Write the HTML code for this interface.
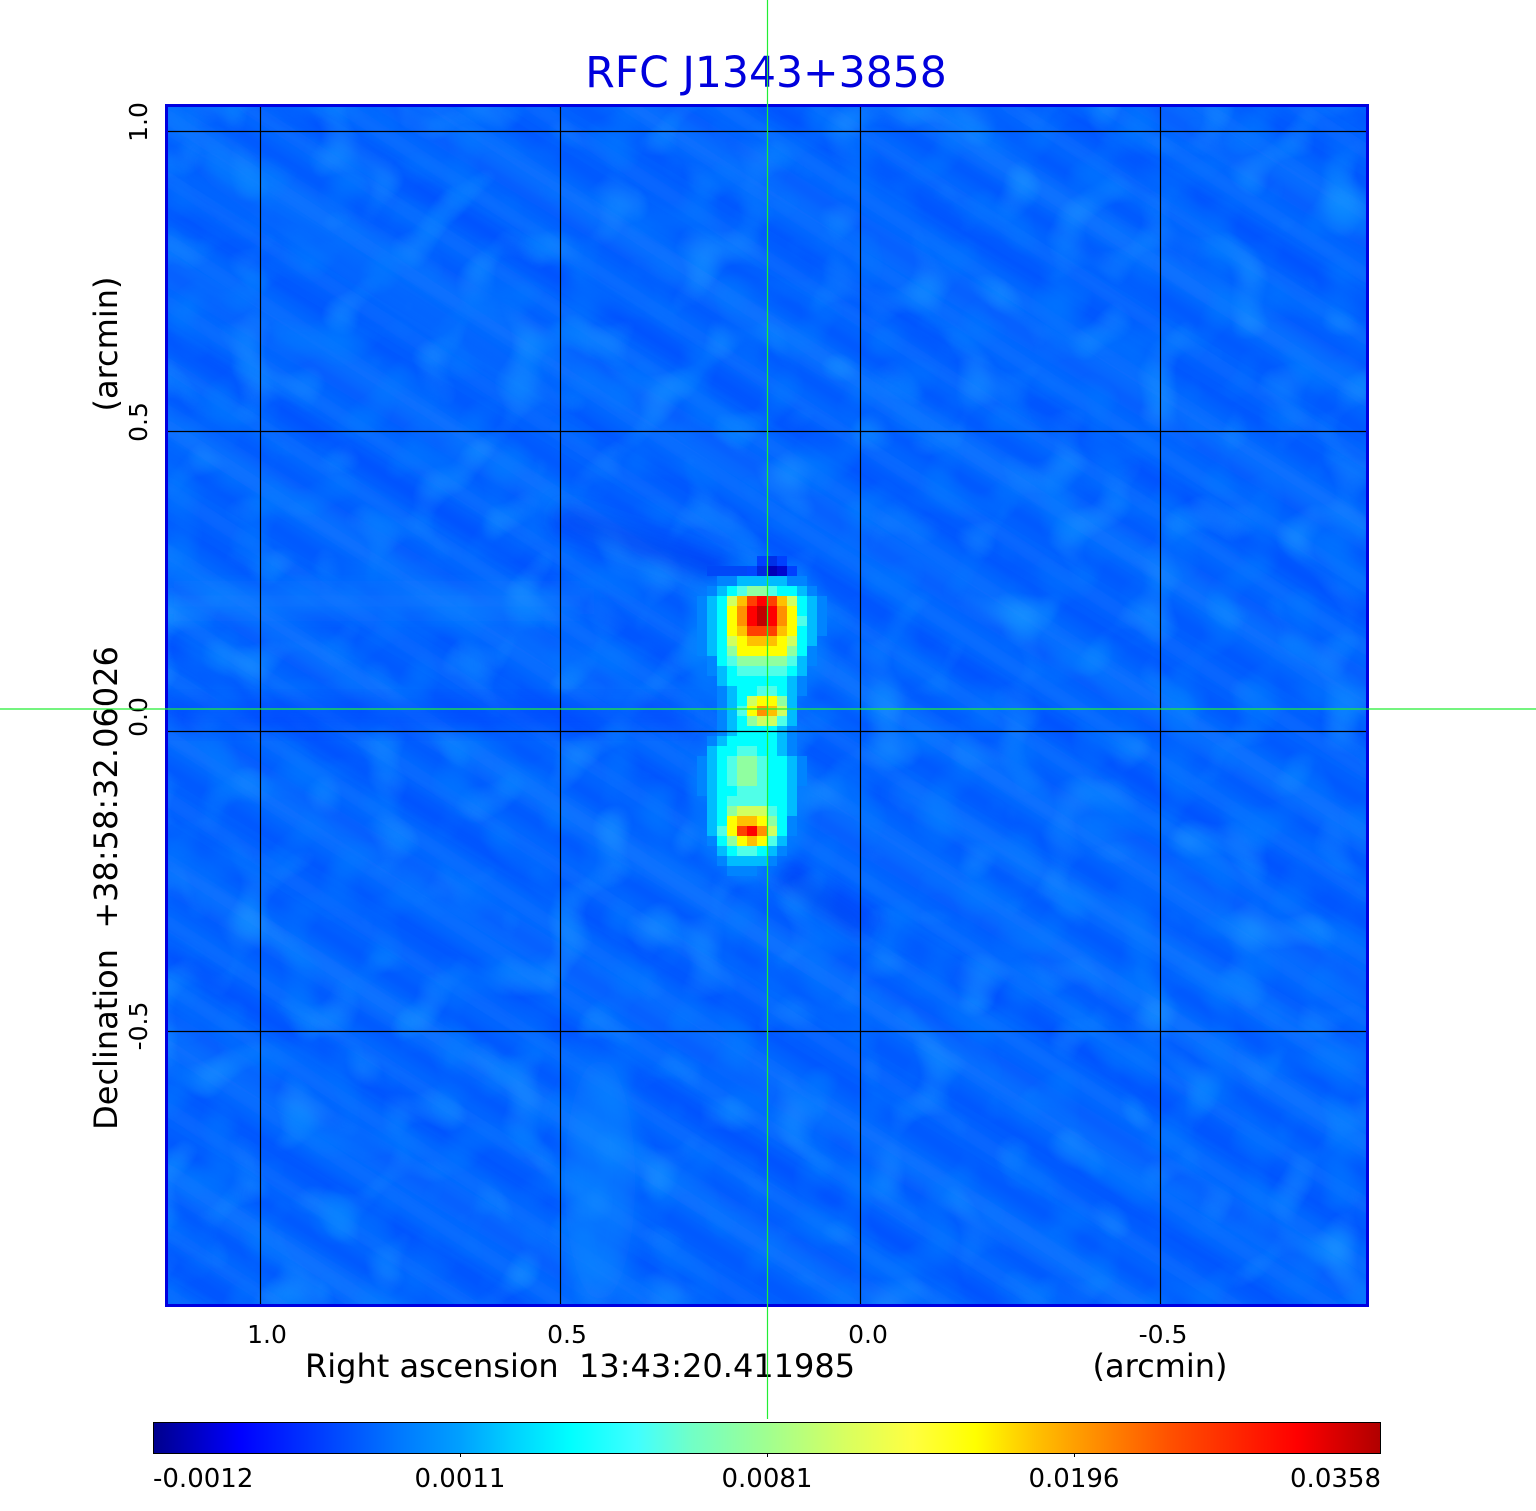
<!DOCTYPE html>
<html><head><meta charset="utf-8"><style>
html,body{margin:0;padding:0;background:#fff;}
svg{display:block;}
text{font-family:"DejaVu Sans","Liberation Sans",sans-serif;}
</style></head><body>
<svg width="1536" height="1511" viewBox="0 0 1536 1511" xmlns="http://www.w3.org/2000/svg">
<defs>
 <clipPath id="pc"><rect x="167" y="106" width="1200" height="1200"/></clipPath>
 <pattern id="st" patternUnits="userSpaceOnUse" width="20" height="52" patternTransform="rotate(33)">
  <rect width="20" height="14" y="0" fill="#1a8cff" opacity="0.28"/>
  <rect width="20" height="14" y="26" fill="#0040ff" opacity="0.25"/>
 </pattern>
 <pattern id="st2" patternUnits="userSpaceOnUse" width="20" height="130" patternTransform="rotate(31)">
  <rect width="20" height="30" y="0" fill="#1a8cff" opacity="0.18"/>
  <rect width="20" height="30" y="65" fill="#0038ff" opacity="0.18"/>
 </pattern>
 <filter id="bl" x="-0.05" y="-0.05" width="1.1" height="1.1"><feGaussianBlur stdDeviation="6"/></filter>
 <filter id="bl2" x="-0.5" y="-0.5" width="2" height="2"><feGaussianBlur stdDeviation="10"/></filter>
 <filter id="bl3" x="-0.5" y="-0.5" width="2" height="2"><feGaussianBlur stdDeviation="6"/></filter>
 <filter id="nzl" filterUnits="userSpaceOnUse" x="167" y="106" width="1200" height="1200">
  <feTurbulence type="fractalNoise" baseFrequency="0.022" numOctaves="1" seed="7" result="t"/>
  <feColorMatrix in="t" type="matrix" values="0 0 0 0 0.03  0 0 0 0 0.55  0 0 0 0 1  2.5 0 0 0 -1.35"/>
 </filter>
 <filter id="nzd" filterUnits="userSpaceOnUse" x="167" y="106" width="1200" height="1200">
  <feTurbulence type="fractalNoise" baseFrequency="0.025" numOctaves="1" seed="19" result="t"/>
  <feColorMatrix in="t" type="matrix" values="0 0 0 0 0  0 0 0 0 0.22  0 0 0 0 1  0 -2.5 0 0 1.3"/>
 </filter>
 <linearGradient id="cb" x1="0" y1="0" x2="1" y2="0">
  <stop offset="0" stop-color="#00008c"/>
  <stop offset="0.07" stop-color="#0000ff"/>
  <stop offset="0.2" stop-color="#0078ff"/>
  <stop offset="0.25" stop-color="#00a0ff"/>
  <stop offset="0.292" stop-color="#00d0ff"/>
  <stop offset="0.34" stop-color="#00ffff"/>
  <stop offset="0.394" stop-color="#40ffff"/>
  <stop offset="0.437" stop-color="#70ffc8"/>
  <stop offset="0.5" stop-color="#a0ff90"/>
  <stop offset="0.564" stop-color="#d8ff60"/>
  <stop offset="0.619" stop-color="#ffff40"/>
  <stop offset="0.67" stop-color="#ffff00"/>
  <stop offset="0.72" stop-color="#ffc000"/>
  <stop offset="0.75" stop-color="#ffa000"/>
  <stop offset="0.829" stop-color="#ff5000"/>
  <stop offset="0.932" stop-color="#ff0000"/>
  <stop offset="1" stop-color="#b00000"/>
 </linearGradient>
</defs>

<!-- Image area -->
<g clip-path="url(#pc)">
 <rect x="167" y="106" width="1200" height="1200" fill="#0062ff"/>
 <rect x="160" y="100" width="1214" height="1214" fill="url(#st2)" filter="url(#bl)"/>
 <rect x="160" y="100" width="1214" height="1214" fill="url(#st)" filter="url(#bl)"/>
 <rect x="167" y="106" width="1200" height="1200" fill="#000" filter="url(#nzl)" opacity="0.55"/>
 <rect x="167" y="106" width="1200" height="1200" fill="#000" filter="url(#nzd)" opacity="0.6"/>
 <!-- broad features -->
 <rect x="167" y="588" width="420" height="26" fill="#1288ff" opacity="0.5" filter="url(#bl2)"/>
 <rect x="167" y="702" width="520" height="26" fill="#0040ff" opacity="0.5" filter="url(#bl2)"/>
 <ellipse cx="600" cy="1180" rx="35" ry="120" fill="#118cff" opacity="0.5" filter="url(#bl2)"/>
 <polygon points="560,505 750,570 745,590 555,525" fill="#0030f0" opacity="0.6" filter="url(#bl2)"/>
 <polygon points="786,866 870,922 862,938 778,882" fill="#0030f0" opacity="0.6" filter="url(#bl2)"/>
 <polygon points="900,780 1367,1050 1367,1075 890,800" fill="#1890ff" opacity="0.4" filter="url(#bl2)"/>
 <polygon points="200,150 560,400 560,420 200,170" fill="#1890ff" opacity="0.35" filter="url(#bl2)"/>
 <!-- soft halo around source -->
 <ellipse cx="757" cy="640" rx="70" ry="80" fill="#0080ff" opacity="0.6" filter="url(#bl3)"/>
 <ellipse cx="750" cy="800" rx="60" ry="80" fill="#0080ff" opacity="0.6" filter="url(#bl3)"/>

 <!-- dark cells above source -->
 <rect x="757" y="556" width="10" height="10" fill="#0040ff"/>
 <rect x="767" y="556" width="10" height="10" fill="#0030e8"/>
 <rect x="777" y="556" width="10" height="10" fill="#0040ff"/>
 <rect x="707" y="566" width="40" height="10" fill="#0048f8"/>
 <rect x="747" y="566" width="10" height="10" fill="#0048ff"/>
 <rect x="757" y="566" width="10" height="10" fill="#0028e0"/>
 <rect x="767" y="566" width="10" height="10" fill="#0000b8"/>
 <rect x="777" y="566" width="10" height="10" fill="#0008d0"/>
 <rect x="787" y="566" width="10" height="10" fill="#0040ff"/>

 <!-- L1 -->
 <path fill="#0084ff" d="M717 576h20v10h-20z M787 576h20v10h-20z M707 586h10v10h-10z M807 586h10v10h-10z M697 596h10v60h-10z M817 596h10v40h-10z M807 646h10v20h-10z M707 656h10v20h-10z M797 676h10v20h-10z M717 686h10v50h-10z M787 726h10v30h-10z M707 736h10v10h-10z M697 756h10v40h-10z M797 756h10v30h-10z M787 816h10v20h-10z M707 836h10v10h-10z M777 846h10v10h-10z M717 856h10v10h-10z M767 856h10v10h-10z M727 866h30v10h-30z"/>
 <!-- L2 -->
 <path fill="#00bcff" d="M737 576h50v10h-50z M717 586h10v10h-10z M797 586h10v10h-10z M707 596h10v60h-10z M807 596h10v50h-10z M797 656h10v20h-10z M717 666h10v20h-10z M787 676h10v50h-10z M727 686h10v50h-10z M777 726h10v30h-10z M717 736h10v10h-10z M707 746h10v90h-10z M787 756h10v60h-10z M777 836h10v10h-10z M717 846h10v10h-10z M767 846h10v10h-10z M727 856h40v10h-40z"/>
 <!-- L3 -->
 <path fill="#00ffff" d="M727 586h10v10h-10z M777 586h20v10h-20z M717 596h10v70h-10z M797 596h10v20h-10z M797 626h10v30h-10z M727 666h10v10h-10z M787 666h10v10h-10z M727 676h60v10h-60z M737 686h20v10h-20z M777 686h10v10h-10z M737 696h10v10h-10z M737 716h10v10h-10z M737 726h40v10h-40z M727 736h50v10h-50z M717 746h20v10h-20z M757 746h20v10h-20z M717 756h10v70h-10z M767 756h10v50h-10z M777 756h10v80h-10z M727 786h10v10h-10z M717 836h10v10h-10z M727 846h10v10h-10z M757 846h10v10h-10z"/>
 <!-- L4 -->
 <path fill="#50ffe8" d="M737 586h10v10h-10z M767 586h10v10h-10z M797 616h10v10h-10z M727 656h10v10h-10z M787 656h10v10h-10z M737 666h50v10h-50z M757 686h20v10h-20z M737 706h10v10h-10z M777 716h10v10h-10z M737 746h20v10h-20z M727 756h10v30h-10z M757 756h10v50h-10z M737 786h20v10h-20z M727 796h30v10h-30z M767 806h10v10h-10z M717 826h10v10h-10z M767 836h10v10h-10z M737 846h20v10h-20z"/>
 <!-- L5 -->
 <path fill="#90ffa0" d="M747 586h20v10h-20z M727 646h10v10h-10z M787 646h10v10h-10z M737 656h50v10h-50z M777 696h10v10h-10z M747 716h10v10h-10z M737 756h20v30h-20z M727 806h10v10h-10z M767 816h10v10h-10z M727 836h10v10h-10z"/>
 <!-- L6 -->
 <path fill="#d0ff60" d="M727 596h10v10h-10z M787 596h10v10h-10z M727 636h10v10h-10z M787 636h10v10h-10z M747 696h10v10h-10z M777 706h10v10h-10z M757 716h20v10h-20z M737 806h30v10h-30z M767 826h10v10h-10z"/>
 <!-- L7 -->
 <path fill="#ffff00" d="M727 606h10v30h-10z M787 606h10v30h-10z M737 636h10v10h-10z M777 636h10v10h-10z M737 646h50v10h-50z M757 696h20v10h-20z M747 706h10v10h-10z M727 816h10v10h-10z M757 816h10v10h-10z M727 826h10v10h-10z M737 836h10v10h-10z M757 836h10v10h-10z"/>
 <!-- L8 -->
 <path fill="#ffc000" d="M737 596h10v10h-10z M777 596h10v10h-10z M737 626h10v10h-10z M777 626h10v10h-10z M747 636h30v10h-30z M767 706h10v10h-10z M737 816h20v10h-20z M747 836h10v10h-10z"/>
 <!-- L9 -->
 <path fill="#ff9000" d="M737 606h10v20h-10z M777 606h10v20h-10z M757 706h10v10h-10z M757 826h10v10h-10z"/>
 <!-- L10 -->
 <path fill="#ff4000" d="M747 596h10v10h-10z M767 596h10v10h-10z M747 626h30v10h-30z M737 826h10v10h-10z"/>
 <!-- L11 -->
 <path fill="#ff0000" d="M757 596h10v10h-10z M747 606h10v20h-10z M767 606h10v20h-10z M747 826h10v10h-10z"/>
 <!-- L12 -->
 <path fill="#c00000" d="M757 606h10v20h-10z"/>

 <!-- grid -->
 <g stroke="#000" stroke-width="1.2">
  <line x1="260.5" y1="106" x2="260.5" y2="1306"/>
  <line x1="560.5" y1="106" x2="560.5" y2="1306"/>
  <line x1="860.5" y1="106" x2="860.5" y2="1306"/>
  <line x1="1160.5" y1="106" x2="1160.5" y2="1306"/>
  <line x1="167" y1="131.5" x2="1367" y2="131.5"/>
  <line x1="167" y1="431.5" x2="1367" y2="431.5"/>
  <line x1="167" y1="731.5" x2="1367" y2="731.5"/>
  <line x1="167" y1="1031.5" x2="1367" y2="1031.5"/>
 </g>
</g>
<!-- frame -->
<rect x="166.5" y="105.5" width="1201" height="1200" fill="none" stroke="#0000e0" stroke-width="3"/>

<!-- title -->
<text x="766" y="87" font-size="42.5" fill="#0000dd" text-anchor="middle">RFC J1343+3858</text>

<!-- x tick labels -->
<g font-size="25" fill="#000" text-anchor="middle">
 <text x="267" y="1343">1.0</text>
 <text x="567" y="1343">0.5</text>
 <text x="868" y="1343">0.0</text>
 <text x="1163" y="1343">-0.5</text>
</g>
<text x="305" y="1377" font-size="32" fill="#000" xml:space="preserve" style="white-space:pre">Right ascension  13:43:20.411985</text>
<text x="1160" y="1377" font-size="32" fill="#000" text-anchor="middle">(arcmin)</text>

<!-- y tick labels -->
<g font-size="25" fill="#000" text-anchor="middle">
 <text x="147" y="122" transform="rotate(-90 147 122)">1.0</text>
 <text x="147" y="422" transform="rotate(-90 147 422)">0.5</text>
 <text x="147" y="717" transform="rotate(-90 147 717)">0.0</text>
 <text x="147" y="1026" transform="rotate(-90 147 1026)">-0.5</text>
</g>
<text x="117" y="344" font-size="32" fill="#000" text-anchor="middle" transform="rotate(-90 117 344)">(arcmin)</text>
<text x="117" y="888" font-size="32" fill="#000" text-anchor="middle" transform="rotate(-90 117 888)" xml:space="preserve" style="white-space:pre">Declination  +38:58:32.06026</text>

<!-- colorbar -->
<rect x="153.5" y="1422.5" width="1227" height="31" fill="url(#cb)" stroke="#000" stroke-width="1"/>
<g stroke="#000" stroke-width="1">
 <line x1="460.5" y1="1453" x2="460.5" y2="1457"/>
 <line x1="767.5" y1="1453" x2="767.5" y2="1457"/>
 <line x1="1074.5" y1="1453" x2="1074.5" y2="1457"/>
</g>
<g font-size="26" fill="#000">
 <text x="153" y="1487">-0.0012</text>
 <text x="460" y="1487" text-anchor="middle">0.0011</text>
 <text x="767" y="1487" text-anchor="middle">0.0081</text>
 <text x="1074" y="1487" text-anchor="middle">0.0196</text>
 <text x="1381" y="1487" text-anchor="end">0.0358</text>
</g>

<!-- green crosshair -->
<g stroke="#22ee33" stroke-width="1.2">
 <line x1="767.5" y1="0" x2="767.5" y2="1419"/>
 <line x1="0" y1="709" x2="1536" y2="709"/>
</g>
</svg>
</body></html>
